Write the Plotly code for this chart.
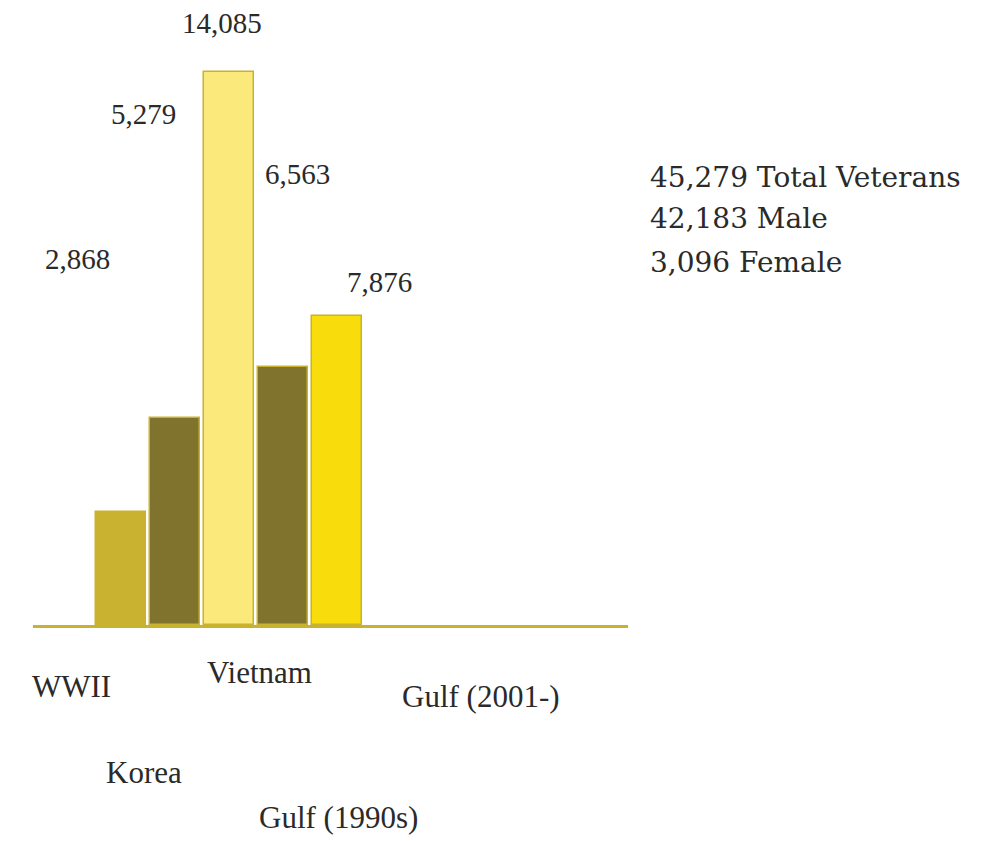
import plotly.graph_objects as go

categories = ["WWII", "Korea", "Vietnam", "Gulf (1990s)", "Gulf (2001-)"]
veterans = [2868, 5279, 14085, 6563, 7876]
bar_colors = ["#c8b22f", "#80732d", "#fbea7b", "#80732d", "#f9dc0b"]
value_labels = ["2,868", "5,279", "14,085", "6,563", "7,876"]
summary_lines = ["45,279 Total Veterans", "42,183 Male", "3,096 Female"]

# label placement (layout only)
value_label_x = [-0.8, 0.41, 1.87, 3.26, 4.78]
value_label_y = [0.605, 0.845, 0.995, 0.745, 0.567]
cat_label_x = [-0.91, 0.43, 2.56, 4.02, 6.67]
cat_label_y = [-0.101, -0.243, -0.079, -0.319, -0.119]

fig = go.Figure()
fig.add_trace(go.Bar(
    x=list(range(len(categories))),
    y=veterans,
    width=0.92,
    marker=dict(color=bar_colors, line=dict(color="#c8b22f", width=1.5)),
    hovertext=categories,
    showlegend=False,
))

annotations = []
for i, txt in enumerate(value_labels):
    annotations.append(dict(
        x=value_label_x[i], y=value_label_y[i], xref="x", yref="paper",
        text=txt, showarrow=False, xanchor="center", yanchor="middle",
        font=dict(family="Liberation Serif", size=29, color="#2a2a2a"),
    ))
for i, txt in enumerate(categories):
    annotations.append(dict(
        x=cat_label_x[i], y=cat_label_y[i], xref="x", yref="paper",
        text=txt, showarrow=False, xanchor="center", yanchor="middle",
        font=dict(family="Liberation Serif", size=31, color="#2a2a2a"),
    ))

# plot area in page pixels (page has 8px body margin)
L, T, W, H = 33, 20, 595, 605
BODY = 8
summary_y = [177, 219, 263]
for i, txt in enumerate(summary_lines):
    annotations.append(dict(
        x=(648 - L) / W, y=(T + H - summary_y[i]) / H, xref="paper", yref="paper",
        text=txt, showarrow=False, xanchor="left", yanchor="middle",
        font=dict(family="DejaVu Serif", size=28, color="#2a2a2a"),
    ))

fig.update_layout(
    width=997, height=841,
    margin=dict(l=L - BODY, r=997 - L - W + BODY, t=T - BODY, b=841 - T - H + BODY),
    paper_bgcolor="white", plot_bgcolor="white",
    xaxis=dict(range=[-1.63, 9.39], showgrid=False, zeroline=False,
               showticklabels=False, ticks="", showline=True,
               linecolor="#c9b22e", linewidth=3),
    yaxis=dict(range=[0, 15410], visible=False),
    annotations=annotations,
    bargap=0,
)

fig.write_html("out.html")
